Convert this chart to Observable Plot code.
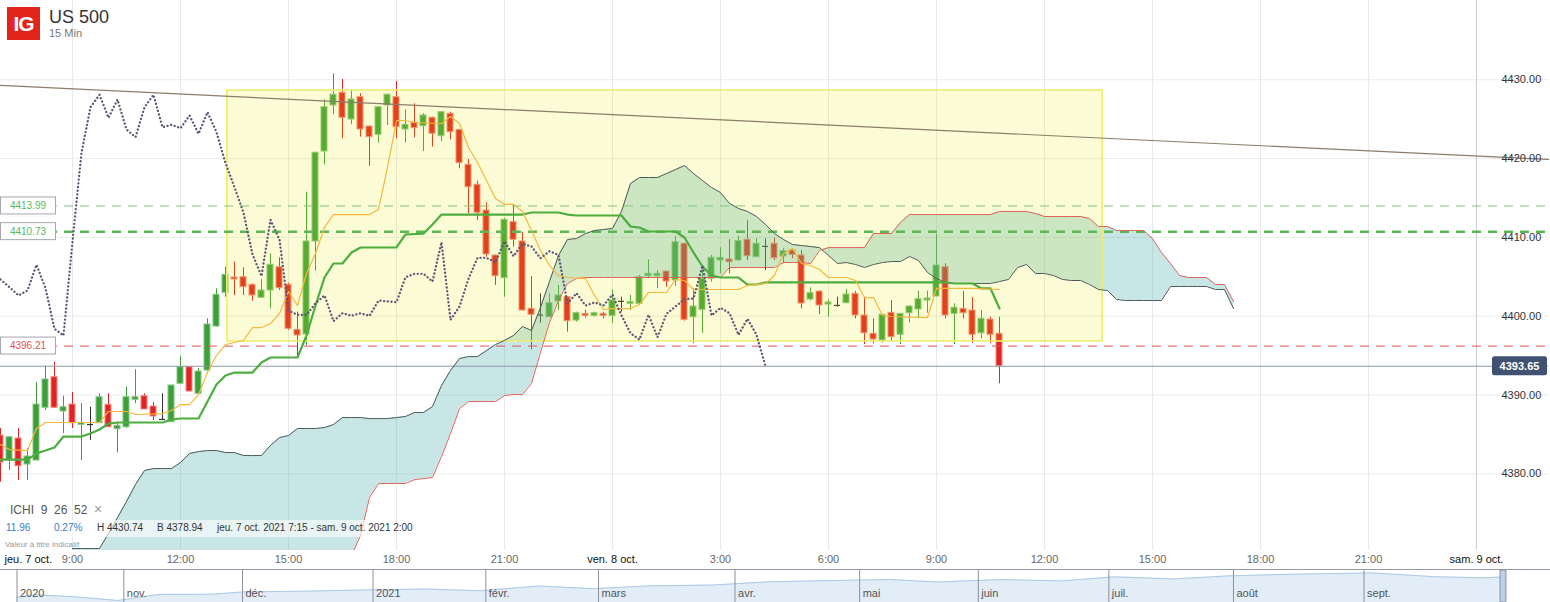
<!DOCTYPE html>
<html><head><meta charset="utf-8">
<script src="https://cdn.jsdelivr.net/npm/d3@7"></script>
<script src="https://cdn.jsdelivr.net/npm/@observablehq/plot@0.6"></script>
<style>
body{margin:0;background:#fff;font-family:"Liberation Sans",Arial,sans-serif;}
#wrap{position:relative;width:1550px;height:602px;overflow:hidden;background:#fff;}
#main{position:absolute;left:0;top:0;}
#nav{position:absolute;left:0;top:569px;width:1550px;border-top:1px solid #9499a8;}
.logo{position:absolute;left:7px;top:7px;width:33px;height:33px;background:#e3241b;color:#fff;font:bold 21px "Liberation Sans",Arial,sans-serif;display:flex;align-items:center;justify-content:center;letter-spacing:-1px;}
.name{position:absolute;left:49px;top:8px;font:18px/1 "Liberation Sans",Arial,sans-serif;color:#333;}
.tf{position:absolute;left:49px;top:28px;font:11px/1 "Liberation Sans",Arial,sans-serif;color:#777;}
.ichi{position:absolute;left:10px;top:502px;font:12px/1 "Liberation Sans",Arial,sans-serif;color:#555;white-space:pre;}
.ichi .x{color:#999;font-size:14px;}
.band{position:absolute;left:0;top:520px;width:372px;height:17px;background:rgba(255,255,255,0.6);}
.r2{position:absolute;top:523px;font:10px/1 "Liberation Sans",Arial,sans-serif;color:#333;white-space:nowrap;}
.blue{color:#3b7dc4;}
.ind{position:absolute;left:5px;top:541px;font:8px/1 "Liberation Sans",Arial,sans-serif;color:#9a9a9a;}
</style></head>
<body><div id="wrap">
<div id="main"></div>
<div id="nav"></div>
<div class="logo">IG</div>
<div class="name">US 500</div>
<div class="tf">15 Min</div>
<div class="ichi">ICHI  9  26  52  <span class="x">×</span></div>
<div class="band"></div>
<div class="r2 blue" style="left:6px">11.96</div>
<div class="r2 blue" style="left:54px">0.27%</div>
<div class="r2" style="left:97px">H 4430.74</div>
<div class="r2" style="left:157px">B 4378.94</div>
<div class="r2" style="left:217px">jeu. 7 oct. 2021 7:15 - sam. 9 oct. 2021 2:00</div>
<div class="ind">Valeur à titre indicatif</div>
</div>
<script>
// ---------- DATA ----------
// 15-minute candles starting jeu. 7 oct. 2021 07:00 (UTC used as wall clock)
const opens = [4384.86,4381.69,4384.48,4381.18,4381.69,4388.38,4392.26,4387.91,4388.79,4386.22,
4386.25,4386.42,4388.76,4385.66,4385.91,4389.39,4389.85,4388.54,4386.90,4386.55,
4391.42,4393.53,4390.15,4393.11,4398.69,4402.97,4404.91,4404.95,4403.98,4402.34,
4403.26,4406.22,4403.98,4398.27,4397.68,4409.48,4420.90,4426.74,4428.35,4424.96,
4427.79,4424.07,4423.02,4426.74,4427.79,4423.69,4424.54,4424.11,4425.18,4422.84,
4425.69,4423.65,4419.21,4416.68,4413.41,4407.70,4404.82,4411.93,4409.48,4400.94,
4400.15,4399.87,4401.87,4402.41,4399.45,4400.30,4400.05,4400.30,4400.03,4401.88,
4401.57,4401.57,4405.08,4405.08,4405.67,4404.53,4409.19,4399.87,4400.81,4404.75,
4407.07,4407.20,4407.07,4409.70,4407.49,4408.85,4409.19,4407.58,4408.34,4407.70,
4402.12,4403.13,4401.48,4401.37,4401.65,4402.84,4400.09,4397.77,4396.92,4400.43,
4397.64,4400.38,4400.85,4401.99,4402.50,4406.22,4400.30,4400.94,4400.72,4397.84,
4399.58,4397.77];
const highs = [4385.75,4384.73,4385.75,4383.21,4391.62,4393.65,4394.16,4389.85,4390.32,4388.92,
4388.45,4390.15,4390.15,4386.40,4390.99,4393.20,4390.15,4389.05,4390.15,4391.21,
4394.92,4393.60,4393.36,4399.67,4403.48,4406.22,4406.88,4406.14,4404.10,4404.66,
4407.92,4407.41,4404.19,4400.51,4415.74,4420.80,4427.46,4430.74,4430.04,4428.73,
4428.22,4424.10,4426.60,4428.20,4429.78,4426.19,4426.95,4425.69,4425.25,4425.95,
4425.89,4423.70,4419.89,4417.13,4414.39,4407.75,4412.43,4414.05,4410.66,4405.04,
4402.84,4402.84,4403.90,4402.50,4400.51,4400.72,4400.50,4400.51,4403.33,4402.41,
4402.63,4405.16,4407.16,4405.80,4405.70,4410.11,4409.25,4403.48,4406.22,4407.70,
4408.68,4409.73,4410.11,4412.14,4409.82,4409.82,4409.90,4408.55,4408.55,4408.34,
4403.60,4403.20,4402.08,4402.41,4403.39,4403.13,4402.41,4399.67,4400.20,4401.99,
4400.35,4401.30,4403.17,4403.17,4410.37,4406.65,4401.57,4403.13,4402.34,4400.72,
4399.87,4399.87];
const lows = [4378.94,4380.42,4379.15,4379.15,4381.69,4388.00,4388.30,4385.11,4385.75,4381.69,
4384.23,4386.40,4385.90,4382.66,4385.75,4388.92,4388.16,4386.76,4386.76,4386.55,
4391.42,4390.40,4390.10,4393.00,4398.60,4402.41,4402.63,4402.63,4401.90,4402.30,
4400.94,4403.26,4398.20,4395.01,4396.28,4405.71,4419.21,4425.56,4422.51,4424.29,
4422.72,4419.00,4421.95,4424.20,4422.51,4421.98,4422.64,4420.90,4421.45,4422.17,
4422.39,4418.71,4412.99,4412.14,4407.49,4403.90,4402.41,4408.76,4400.70,4395.74,
4399.11,4399.80,4400.72,4397.97,4399.24,4399.80,4399.90,4399.67,4399.07,4400.53,
4400.72,4401.50,4404.75,4403.48,4403.68,4403.77,4399.37,4396.50,4397.84,4404.31,
4405.38,4405.38,4407.00,4407.07,4407.45,4405.80,4407.07,4406.65,4407.30,4400.94,
4401.93,4400.18,4399.87,4401.14,4401.60,4399.67,4396.41,4396.50,4396.57,4396.92,
4396.41,4399.16,4399.67,4400.38,4402.45,4399.67,4396.41,4399.67,4396.54,4397.13,
4396.50,4391.42];
const closes = [4381.43,4384.64,4380.96,4382.20,4388.79,4391.97,4388.38,4388.45,4386.42,4386.47,
4386.25,4389.72,4385.91,4386.09,4389.72,4389.72,4388.16,4387.27,4386.90,4391.21,
4393.53,4390.44,4392.98,4398.95,4402.72,4405.25,4404.66,4403.68,4402.63,4403.26,
4406.52,4403.55,4398.40,4397.55,4409.48,4420.74,4426.52,4428.10,4425.18,4427.50,
4423.69,4422.72,4426.52,4428.10,4423.98,4424.29,4423.86,4425.47,4423.15,4425.89,
4423.35,4419.42,4416.37,4413.12,4407.83,4405.08,4412.23,4409.70,4400.72,4400.18,
4400.15,4401.65,4402.63,4399.37,4400.38,4400.05,4400.38,4400.05,4401.99,4401.88,
4401.78,4404.95,4405.38,4405.38,4404.40,4409.39,4399.54,4401.23,4404.75,4407.41,
4407.41,4406.85,4409.52,4407.61,4409.19,4408.85,4407.36,4408.25,4407.77,4401.61,
4402.92,4401.36,4401.74,4401.37,4402.75,4400.09,4397.84,4397.04,4400.18,4397.34,
4400.30,4401.23,4402.16,4402.25,4406.43,4400.09,4401.07,4400.38,4397.64,4399.67,
4397.64,4393.65];

// Ichimoku lines: [bar index (15 min from 07:00), value]
const tenkan = [[0,4383.72],[1,4383.08],[3,4382.95],[4,4385.75],[5,4386.51],[11,4386.51],[12,4387.91],[14,4387.91],[15,4387.53],[18,4387.65],[19,4388.03],[20,4388.79],[21,4388.79],[22,4390.06],[23,4392.85],[24,4395.01],[25,4396.41],[26,4396.66],[27,4396.92],[28,4398.56],[29,4398.56],[30,4399.07],[31,4400.34],[32,4403.14],[33,4401.36],[34,4405.42],[35,4407.96],[36,4411.26],[37,4412.90],[41,4412.90],[42,4413.54],[43,4418.87],[44,4424.83],[45,4424.83],[46,4424.58],[49,4424.45],[50,4425.34],[51,4424.45],[52,4421.41],[53,4419.50],[54,4417.22],[55,4414.94],[56,4414.18],[57,4414.18],[58,4413.29],[59,4410.87],[60,4408.34],[61,4406.43],[62,4405.16],[63,4404.91],[65,4404.78],[66,4402.63],[67,4400.85],[68,4400.97],[70,4400.97],[71,4401.48],[72,4403.01],[74,4403.01],[75,4404.66],[76,4404.53],[77,4403.39],[82,4403.39],[83,4403.90],[85,4404.15],[86,4405.16],[87,4407.96],[88,4408.59],[89,4406.69],[90,4406.43],[91,4405.93],[92,4404.91],[94,4404.91],[95,4404.53],[96,4402.37],[97,4402.37],[98,4400.09],[99,4399.96],[103,4399.83],[104,4403.52],[108,4403.52],[111,4403.39]];
const kijun = [[0,4381.81],[3,4381.81],[4,4382.57],[6,4383.34],[7,4384.73],[9,4384.73],[10,4385.12],[11,4385.62],[12,4386.38],[13,4386.51],[18,4386.51],[19,4386.89],[20,4387.02],[22,4387.02],[23,4389.17],[24,4391.33],[25,4392.47],[26,4392.85],[28,4392.85],[29,4394.12],[30,4394.76],[33,4394.76],[34,4397.55],[35,4401.36],[36,4404.91],[37,4406.69],[38,4406.69],[39,4408.08],[40,4408.72],[44,4408.72],[45,4410.37],[47,4410.49],[48,4411.63],[49,4412.90],[58,4412.90],[59,4413.16],[62,4413.16],[63,4412.90],[64,4412.78],[69,4412.78],[70,4411.38],[71,4411.25],[72,4410.75],[75,4410.75],[76,4409.99],[77,4408.08],[78,4406.31],[79,4405.16],[80,4404.91],[82,4404.91],[83,4404.02],[84,4404.02],[85,4404.28],[105,4404.28],[106,4404.15],[108,4404.15],[109,4403.52],[110,4403.52],[111,4400.97]];
// Cloud spans, one value per bar from bar 8 to bar 137
const cloudStart = 8;
const spanA = [4370.52,4370.52,4370.52,4370.52,4372.42,4374.45,4376.48,4378.64,4380.42,4380.67,
4380.67,4380.67,4381.43,4382.57,4382.83,4382.95,4382.95,4382.70,4382.70,4382.32,
4382.32,4382.32,4383.59,4384.60,4384.86,4385.75,4385.75,4385.75,4385.87,4386.25,
4387.14,4387.14,4387.14,4387.01,4387.01,4387.01,4387.14,4387.27,4387.78,4387.78,
4388.54,4391.20,4393.11,4394.63,4394.88,4394.88,4395.64,4396.41,4396.92,4397.55,
4398.69,4398.18,4401.10,4404.40,4407.70,4409.73,4409.86,4410.49,4410.87,4411.00,
4411.13,4413.29,4416.84,4417.60,4417.60,4417.60,4418.10,4418.61,4419.12,4418.10,
4417.22,4416.33,4415.69,4414.30,4413.66,4413.29,4412.65,4411.64,4410.49,4409.73,
4409.10,4408.97,4408.84,4408.71,4407.70,4406.69,4406.81,4406.56,4406.18,4406.56,
4406.81,4406.94,4406.94,4407.58,4407.07,4405.54,4404.78,4404.28,4404.15,4404.15,
4404.15,4404.15,4404.15,4404.40,4404.66,4406.18,4406.56,4405.42,4405.42,4405.16,
4404.66,4404.53,4404.53,4404.02,4403.39,4403.26,4402.12,4401.99,4401.99,4401.99,
4401.99,4401.99,4403.77,4403.77,4403.77,4403.77,4403.77,4403.39,4403.39,4400.97];
const spanB = [4366,4366,4366,4366,4366,4366,4366,4366,4366,4366,
4366,4366,4366,4366,4366,4366,4366,4366,4366,4366,
4366,4366,4366,4366,4366,4366,4366,4366,4366,4366,
4366,4369.63,4372.17,4376.99,4378.77,4378.77,4378.77,4378.77,4379.27,4379.40,
4379.53,4382.19,4385.11,4388.28,4389.17,4389.17,4389.17,4389.17,4389.93,4390.06,
4390.06,4391.46,4395.39,4399.20,4401.99,4404.15,4404.78,4404.91,4404.91,4404.91,
4404.91,4404.91,4404.91,4404.91,4404.91,4404.91,4404.91,4404.91,4404.91,4404.91,
4404.91,4404.91,4404.91,4406.18,4406.18,4406.18,4406.18,4406.18,4406.18,4406.81,
4406.81,4406.81,4406.69,4408.34,4408.71,4408.71,4408.71,4408.71,4408.71,4410.49,
4410.49,4410.49,4411.89,4412.90,4412.90,4412.90,4412.90,4412.90,4412.90,4412.90,
4412.90,4412.90,4412.90,4413.29,4413.29,4413.29,4413.29,4413.03,4412.65,4412.65,
4412.65,4412.65,4412.65,4412.40,4411.38,4411.38,4410.87,4410.87,4410.87,4410.87,
4409.86,4408.08,4406.69,4405.16,4404.91,4404.91,4404.91,4404.02,4404.02,4401.86];

const trendTimes = ["2021-10-07T07:00Z","2021-10-09T02:00Z"];
const trendValues = [4429.28, 4419.89];
const boxTimes = ["2021-10-07T13:18Z","2021-10-08T13:37Z"];
const boxValues = [4396.79, 4428.64];
const levelValues = [4413.99, 4410.73, 4396.21];
const lastPrice = 4393.65;
const yTicks = [4380, 4390, 4400, 4410, 4420, 4430];
const firstDayLabel = "jeu. 7 oct.";
const xTickLabels = ["9:00","12:00","15:00","18:00","21:00","ven. 8 oct.","3:00","6:00","9:00","12:00","15:00","18:00","21:00","sam. 9 oct."];

// navigator: one year of daily closes, x = trading session count from 7 oct. 2020
const navSessions = [0,3,10,17,24,33,38,48,59,69,78,88,97,107,117,127,137,147,155,166,176,185,195,204,214,226,228,239,247,250];
const navValues = [3420,3535,3435,3270,3550,3558,3662,3695,3756,3795,3714,3934,3811,3943,3975,4129,4180,4232,4116,4230,4166,4352,4258,4395,4468,4523,4537,4358,4308,4345];
const navMonthSessions = [0,18,38,60,79,98,121,142,162,184,205,227];
const navMonthLabels = ["2020","nov.","déc.","2021","févr.","mars","avr.","mai","juin","juil.","août","sept."];

// ---------- BUILD ----------
const T0 = Date.UTC(2021, 9, 7, 7, 0);
const BAR = 15 * 60000;
const barTime = s => new Date(T0 + s * BAR);
const xStart = new Date(T0);
const xEnd = new Date(Date.UTC(2021, 9, 9, 0, 0));
const xExt = new Date(trendTimes[1]);

const candles = opens.map((o, i) => ({t: barTime(i), o, h: highs[i], l: lows[i], c: closes[i]}));
const up = candles.filter(d => d.c > d.o), down = candles.filter(d => d.c < d.o), flat = candles.filter(d => d.c === d.o);
const half = 5 * 60000;
const chikou = closes.slice(26).map((c, i) => ({t: barTime(i), v: c}));
const tk = tenkan.map(([s, v]) => ({t: barTime(s), v}));
const kj = kijun.map(([s, v]) => ({t: barTime(s), v}));
const cloud = spanA.map((a, k) => ({t: barTime(cloudStart + k), a, b: spanB[k]}));
const trend = trendTimes.map((t, k) => ({t: new Date(t), v: trendValues[k]}));
const box = [{x1: new Date(boxTimes[0]), x2: new Date(boxTimes[1]), y1: boxValues[0], y2: boxValues[1]}];
const hourTimes = d3.utcHour.every(3).range(new Date(Date.UTC(2021, 9, 7, 9)), new Date(Date.UTC(2021, 9, 9, 0, 1)));
const xLabels = hourTimes.map((t, k) => ({t, label: xTickLabels[k]}));

const wickMark = (data, color) => Plot.ruleX(data, {x: "t", y1: "l", y2: "h", stroke: color, strokeWidth: 1});
const bodyMark = (data, fill, edge) => Plot.rect(data, {x1: d => new Date(+d.t - half), x2: d => new Date(+d.t + half), y1: "o", y2: "c", fill, stroke: edge, strokeWidth: 1});

const plot = Plot.plot({
  width: 1550, height: 570,
  marginLeft: 0, marginRight: 74, marginTop: 0, marginBottom: 20,
  style: {fontFamily: '"Liberation Sans", Arial, sans-serif', fontSize: "11px", background: "transparent", overflow: "visible"},
  x: {type: "utc", domain: [xStart, xEnd], axis: null},
  y: {domain: [4370.27, 4440.06], axis: null},
  marks: [
    Plot.ruleY(yTicks, {x1: () => xStart, x2: () => xExt, stroke: "#ebebeb"}),
    Plot.ruleX(hourTimes, {stroke: "#e9e9e9"}),
    Plot.ruleX([xEnd], {stroke: "#cacbd5"}),
    wickMark(up, "#3d9f3a"), wickMark(down, "#e32222"), wickMark(flat, "#333"),
    bodyMark(up, "#3d9f3a", "#84c781"), bodyMark(down, "#e32222", "#f08a84"),
    Plot.ruleY(flat, {x1: d => new Date(+d.t - half), x2: d => new Date(+d.t + half), y: "o", stroke: "#333", strokeWidth: 1.2}),
    Plot.areaY(cloud, {x: "t", y1: "a", y2: "b", fill: "#48acac", fillOpacity: 0.3, clip: true}),
    Plot.rect(box, {x1: "x1", x2: "x2", y1: "y1", y2: "y2", fill: "#e8e800", fillOpacity: 0.16, stroke: "#eded72", strokeWidth: 1.6}),
    Plot.line(trend, {x: "t", y: "v", stroke: "#8b7d67", strokeWidth: 1.2}),
    Plot.ruleY([levelValues[0]], {x1: () => xStart, x2: () => xExt, stroke: "#80c47e", strokeWidth: 1, strokeDasharray: "9,7"}),
    Plot.ruleY([levelValues[1]], {x1: () => xStart, x2: () => xExt, stroke: "#5bb655", strokeWidth: 2.5, strokeDasharray: "9,7"}),
    Plot.ruleY([levelValues[2]], {x1: () => xStart, x2: () => xExt, stroke: "#e05252", strokeWidth: 1, strokeDasharray: "9,7"}),
    Plot.ruleY([lastPrice], {x1: () => xStart, x2: () => xExt, stroke: "#8e97aa", strokeWidth: 1}),
    Plot.line(cloud, {x: "t", y: "a", stroke: "#4d5a5b", strokeWidth: 1, clip: true}),
    Plot.line(cloud, {x: "t", y: "b", stroke: "#e0605b", strokeWidth: 1, clip: true}),
    Plot.line(kj, {x: "t", y: "v", stroke: "#4cae3f", strokeWidth: 2.2}),
    Plot.line(tk, {x: "t", y: "v", stroke: "#f6b83a", strokeWidth: 1.2}),
    Plot.line(chikou, {x: "t", y: "v", stroke: "#5e557a", strokeWidth: 2.3, strokeDasharray: "0.1,3.6", strokeLinecap: "round"}),
    Plot.axisY(yTicks, {anchor: "right", tickSize: 0, tickPadding: 25, tickFormat: d => d.toFixed(2), fill: "#333", fontSize: 11}),
    Plot.text(xLabels, {x: "t", text: "label", frameAnchor: "bottom", dy: 12, fontSize: 11, fill: d => d.label.includes("oct.") ? "#111" : "#666"}),
    Plot.text([firstDayLabel], {x: () => xStart, text: d => d, frameAnchor: "bottom", dy: 12, dx: 4, textAnchor: "start", fontSize: 11, fill: "#111"})
  ]
});
document.getElementById("main").appendChild(plot);

// level label boxes positioned with the plot's own y scale
const ys = plot.scale("y");
const g = d3.select(plot).append("g");
const levelTextColors = ["#5cb85c", "#5cb85c", "#e05252"];
levelValues.forEach((v, k) => {
  const y = ys.apply(v);
  g.append("rect").attr("x", 0.5).attr("y", y - 8.5).attr("width", 55).attr("height", 17).attr("fill", "#fff").attr("stroke", "#a7a7b0");
  g.append("text").attr("x", 28).attr("y", y).attr("dy", "0.36em").attr("text-anchor", "middle").attr("fill", levelTextColors[k]).attr("font-size", 10).text(v.toFixed(2));
});
const yp = ys.apply(lastPrice);
g.append("rect").attr("x", 1492).attr("y", yp - 9.5).attr("width", 55).attr("height", 19).attr("rx", 2.5).attr("fill", "#3f5272");
g.append("text").attr("x", 1519.5).attr("y", yp).attr("dy", "0.36em").attr("text-anchor", "middle").attr("fill", "#fff").attr("font-weight", "bold").attr("font-size", 11).text(lastPrice.toFixed(2));

// navigator
const navData = navSessions.map((s, k) => ({s, v: navValues[k]}));
const navMonths = navMonthSessions.map((s, k) => ({s, label: navMonthLabels[k]}));
const navPlot = Plot.plot({
  width: 1550, height: 32, marginLeft: 16.5, marginRight: 50, marginTop: 0, marginBottom: 0,
  style: {fontFamily: '"Liberation Sans", Arial, sans-serif', fontSize: "11px", background: "transparent", overflow: "visible"},
  x: {domain: [0, 250], axis: null},
  y: {domain: [3178, 4644], axis: null},
  marks: [
    Plot.areaY(navData, {x: "s", y1: 3178, y2: "v", fill: "#e2edf8"}),
    Plot.line(navData, {x: "s", y: "v", stroke: "#abc9e7", strokeWidth: 1}),
    Plot.rect([{a: 250, b: 251}], {x1: "a", x2: "b", y1: 3178, y2: 4644, fill: "#b9d1ea", stroke: "#8d8fa0"}),
    Plot.ruleX(navMonths, {x: "s", stroke: "#8d8fa0"}),
    Plot.text(navMonths, {x: "s", text: "label", frameAnchor: "bottom", dy: -6, dx: 3, textAnchor: "start", fill: "#555", fontSize: 11})
  ]
});
document.getElementById("nav").appendChild(navPlot);
</script>
</body></html>
